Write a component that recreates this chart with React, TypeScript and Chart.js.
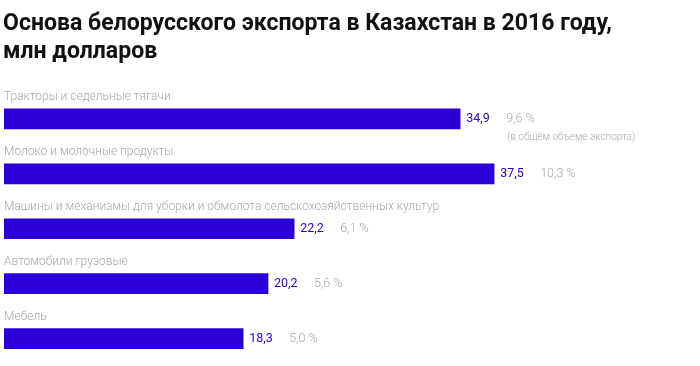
import React, { useEffect, useRef } from "react";
import { Chart, registerables } from "chart.js";

Chart.register(...registerables);

const titleLines = ["Основа белорусского экспорта в Казахстан в 2016 году,", "млн долларов"];
const categories = [
  "Тракторы и седельные тягачи",
  "Молоко и молочные продукты",
  "Машины и механизмы для уборки и обмолота сельскохозяйственных культур",
  "Автомобили грузовые",
  "Мебель",
];
const values = [34.9, 37.5, 22.2, 20.2, 18.3];
const valueLabels = ["34,9", "37,5", "22,2", "20,2", "18,3"];
const shareLabels = ["9,6 %", "10,3 %", "6,1 %", "5,6 %", "5,0 %"];
const shareNote = "(в общем объеме экспорта)";

const BAR = "#2a00d6";
const GRAY = "#a8a8a8";

export default function App() {
  const ref = useRef<HTMLCanvasElement>(null);
  useEffect(() => {
    document.body.style.margin = "0";
    const labelsPlugin = {
      id: "labels",
      afterDatasetsDraw(chart: any) {
        const ctx = chart.ctx;
        const meta = chart.getDatasetMeta(0);
        ctx.save();
        // title (condensed bold look)
        ctx.fillStyle = "#111";
        ctx.textBaseline = "alphabetic";
        ctx.textAlign = "left";
        ctx.font = "bold 23px Roboto";
        const w = ctx.measureText(titleLines[0]).width;
        const sx = 609 / w;
        titleLines.forEach((t, i) => {
          ctx.save();
          ctx.translate(3, 30 + i * 28);
          ctx.scale(sx, 1);
          ctx.fillText(t, 0, 0);
          ctx.restore();
        });
        meta.data.forEach((bar: any, i: number) => {
          ctx.textBaseline = "middle";
          ctx.font = "300 12px Roboto";
          ctx.fillStyle = GRAY;
          ctx.fillText(categories[i], chart.chartArea.left, bar.y - 22);
          ctx.font = "400 12.5px Roboto";
          ctx.fillStyle = BAR;
          const vx = bar.x + 6;
          ctx.fillText(valueLabels[i], vx, bar.y);
          ctx.font = "300 12.5px Roboto";
          ctx.fillStyle = GRAY;
          ctx.fillText(shareLabels[i], vx + 40, bar.y);
          if (i === 0) {
            ctx.font = "300 10px Roboto";
            ctx.fillText(shareNote, vx + 41, bar.y + 19);
          }
        });
        ctx.restore();
      },
    };
    const chart = new Chart(ref.current!, {
      type: "bar",
      data: {
        labels: categories,
        datasets: [
          {
            data: values,
            backgroundColor: BAR,
            borderWidth: 0,
            barThickness: 20,
          },
        ],
      },
      options: {
        indexAxis: "y",
        animation: false,
        responsive: false,
        layout: { padding: { left: 4, top: 91.5, right: 42.5, bottom: 0 } },
        scales: {
          x: { display: false, min: 0, max: 50 },
          y: { display: false },
        },
        plugins: {
          legend: { display: false },
          tooltip: { enabled: false },
          title: { display: false },
        },
      },
      plugins: [labelsPlugin],
    });
    return () => chart.destroy();
  }, []);
  return (
    <div style={{ position: "absolute", left: 0, top: 0, width: 700, height: 366 }}>
      <canvas ref={ref} width={700} height={366} style={{ width: 700, height: 366 }} />
    </div>
  );
}
